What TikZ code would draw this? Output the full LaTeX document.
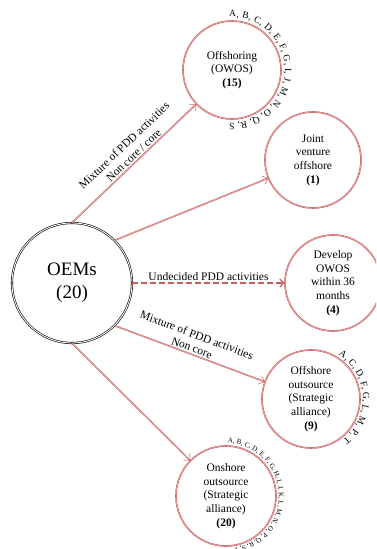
\documentclass[tikz,border=0pt]{standalone}
\usepackage{fontspec}
\setmainfont{Liberation Serif}
\usetikzlibrary{arrows.meta,decorations.text}
\definecolor{rim}{RGB}{200,92,92}
\definecolor{rimfill}{RGB}{238,186,186}
\newcommand{\arcbig}{\fontsize{9.5}{11}\selectfont}
\newcommand{\arcsmall}{\fontsize{7}{8}\selectfont}
\begin{document}
\begin{tikzpicture}[x=1pt,y=1pt,
  hub/.style={circle, draw=black, line width=0.6pt, double=white, double distance=0.9pt,
    minimum size=120pt, inner sep=0pt, align=center, font=\fontsize{19}{23}\selectfont},
  mode/.style={circle, draw=rim, line width=0.55pt, double=rimfill, double distance=0.5pt,
    minimum size=98pt, inner sep=0pt, align=center, font=\fontsize{11.5}{13.7}\selectfont},
  flow/.style={draw=rim, line width=0.5pt, double=rimfill, double distance=0.5pt,
    -{Straight Barb[length=5pt,width=9pt]}},
  tentative/.style={draw=rim, line width=1.3pt, dash pattern=on 6pt off 3pt,
    -{Straight Barb[length=4pt,width=8pt]}},
  flowlabel/.style={sloped, above, align=center, inner sep=2pt, font=\fontsize{11.5}{13.7}\selectfont},
  lettering/.style={decorate, decoration={text along path, text align=fit to path, text={#1}}},
  letteringleft/.style={decorate, decoration={text along path, text align=left, text={#1}}}
]
\useasboundingbox (0,0) rectangle (376,549);
\clip (0,0) rectangle (376,549);

% firms and their sourcing modes
\node[hub]  (oem)  at (72,266)  {OEMs\\(20)};
\node[mode] (off)  at (232,479) {Offshoring\\(OWOS)\\\textbf{(15)}};
\node[mode, minimum size=96pt] (jv)   at (313,389) {Joint\\venture\\offshore\\\textbf{(1)}};
\node[mode, minimum size=96pt] (dev)  at (333,266) {Develop\\OWOS\\within 36\\months\\\textbf{(4)}};
\node[mode] (oout) at (311,150) {Offshore\\outsource\\(Strategic\\alliance)\\\textbf{(9)}};
\node[mode, minimum size=100pt] (onsh) at (226,53)  {Onshore\\outsource\\(Strategic\\alliance)\\\textbf{(20)}};

% connectors
\draw[flow] (oem.90) -- (off)
  node[flowlabel, pos=.53] {Mixture of PDD activities\\Non core / core};
\draw[flow] (oem.45) -- (jv);
\draw[tentative] (oem.east) -- (dev)
  node[flowlabel, pos=.5, sloped=false] {Undecided PDD activities};
\draw[flow] (oem.-45) -- (oout)
  node[flowlabel, pos=.5] {Mixture of PDD activities\\Non core};
\draw[flow] (oem.270) -- (onsh);

% firm letters around the circles
\path[lettering={|\arcbig|A, B, C, D, E, F, G, I, J, M, N, O, Q, R, S}]
  ([shift={(93:53)}]off.center) arc[start angle=93, end angle=-93, radius=53];
\path[lettering={|\arcbig|A, C, D, F, G, L, M, P, T}]
  ([shift={(58:52)}]oout.center) arc[start angle=58, end angle=-52, radius=52];
\path[letteringleft={|\arcsmall|A, B, C, D, E, F, G, H, I, J, K, L, M, N, O, P, Q, R, S, T}]
  ([shift={(88:53)}]onsh.center) arc[start angle=88, end angle=-100, radius=53];
\end{tikzpicture}
\end{document}
